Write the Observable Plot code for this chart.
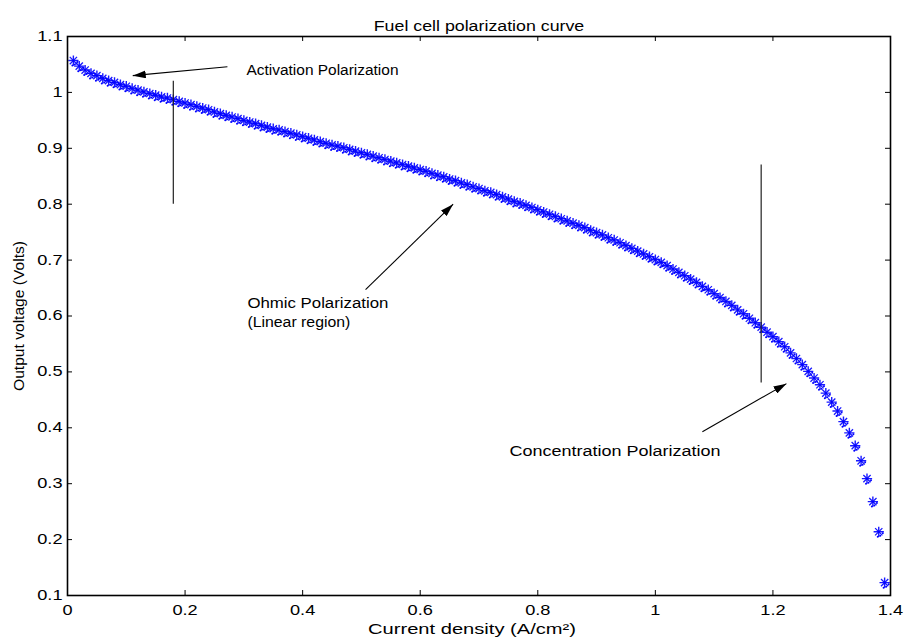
<!DOCTYPE html>
<html>
<head>
<meta charset="utf-8">
<script src="https://cdn.jsdelivr.net/npm/d3@7"></script>
<script src="https://cdn.jsdelivr.net/npm/@observablehq/plot@0.6"></script>
<style>
  html, body { margin: 0; padding: 0; background: #fff; }
  svg { display: block; }
</style>
</head>
<body>
<div id="chart"></div>
<script>
// ---- data ----
const currentDensity = [
  0.01,0.02,0.03,0.04,0.05,0.06,0.07,0.08,0.09,0.10,
  0.11,0.12,0.13,0.14,0.15,0.16,0.17,0.18,0.19,0.20,
  0.21,0.22,0.23,0.24,0.25,0.26,0.27,0.28,0.29,0.30,
  0.31,0.32,0.33,0.34,0.35,0.36,0.37,0.38,0.39,0.40,
  0.41,0.42,0.43,0.44,0.45,0.46,0.47,0.48,0.49,0.50,
  0.51,0.52,0.53,0.54,0.55,0.56,0.57,0.58,0.59,0.60,
  0.61,0.62,0.63,0.64,0.65,0.66,0.67,0.68,0.69,0.70,
  0.71,0.72,0.73,0.74,0.75,0.76,0.77,0.78,0.79,0.80,
  0.81,0.82,0.83,0.84,0.85,0.86,0.87,0.88,0.89,0.90,
  0.91,0.92,0.93,0.94,0.95,0.96,0.97,0.98,0.99,1.00,
  1.01,1.02,1.03,1.04,1.05,1.06,1.07,1.08,1.09,1.10,
  1.11,1.12,1.13,1.14,1.15,1.16,1.17,1.18,1.19,1.20,
  1.21,1.22,1.23,1.24,1.25,1.26,1.27,1.28,1.29,1.30,
  1.31,1.32,1.33,1.34,1.35,1.36,1.37,1.38,1.39
];
const outputVoltage = [
  1.057,1.047,1.040,1.034,1.030,1.025,1.021,1.018,1.014,1.011,
  1.007,1.004,1.001,0.998,0.995,0.992,0.990,0.987,0.984,0.981,
  0.978,0.975,0.972,0.969,0.965,0.962,0.959,0.956,0.953,0.950,
  0.947,0.944,0.941,0.938,0.935,0.933,0.930,0.927,0.924,0.921,
  0.918,0.915,0.912,0.909,0.906,0.904,0.901,0.898,0.895,0.892,
  0.889,0.886,0.883,0.880,0.877,0.874,0.871,0.868,0.865,0.862,
  0.859,0.855,0.852,0.849,0.845,0.842,0.838,0.835,0.831,0.828,
  0.824,0.821,0.817,0.813,0.809,0.805,0.802,0.798,0.794,0.790,
  0.786,0.782,0.778,0.774,0.770,0.766,0.762,0.758,0.753,0.749,
  0.745,0.740,0.736,0.731,0.726,0.721,0.716,0.711,0.706,0.701,
  0.696,0.690,0.684,0.678,0.672,0.666,0.660,0.653,0.647,0.640,
  0.633,0.626,0.619,0.611,0.604,0.596,0.588,0.580,0.571,0.563,
  0.554,0.545,0.534,0.524,0.513,0.501,0.489,0.477,0.462,0.446,
  0.430,0.411,0.391,0.368,0.341,0.309,0.268,0.214,0.123
];

const xTicks = [0, 0.2, 0.4, 0.6, 0.8, 1, 1.2, 1.4];
const xTickLabels = ["0", "0.2", "0.4", "0.6", "0.8", "1", "1.2", "1.4"];
const yTicks = [0.1, 0.2, 0.3, 0.4, 0.5, 0.6, 0.7, 0.8, 0.9, 1, 1.1];
const yTickLabels = ["0.1", "0.2", "0.3", "0.4", "0.5", "0.6", "0.7", "0.8", "0.9", "1", "1.1"];

const titleText = "Fuel cell polarization curve";
const xLabelText = "Current density (A/cm\u00B2)";
const yLabelText = "Output voltage (Volts)";

// annotations (data coordinates)
const noteTexts = ["Activation Polarization", "Ohmic Polarization", "(Linear region)", "Concentration Polarization"];
const noteX = [0.3045, 0.306, 0.306, 0.752];
const noteY = [1.039, 0.622, 0.588, 0.357];
const noteWidths = [152, 141, 103, 211];

const arrowX1 = [0.272, 0.507, 1.080];
const arrowY1 = [1.046, 0.647, 0.393];
const arrowX2 = [0.111, 0.656, 1.223];
const arrowY2 = [1.030, 0.800, 0.479];

const dividerX = [0.18, 1.18];
const dividerY1 = [0.80, 0.48];
const dividerY2 = [1.02, 0.87];

// ---- build tables ----
const points = currentDensity.map((x, i) => ({x, y: outputVoltage[i]}));
const notes = noteTexts.map((t, i) => ({t, x: noteX[i], y: noteY[i]}));
const arrows = arrowX1.map((x1, i) => ({x1, y1: arrowY1[i], x2: arrowX2[i], y2: arrowY2[i]}));
const dividers = dividerX.map((x, i) => ({x, y1: dividerY1[i], y2: dividerY2[i]}));

const W = 905, H = 644;
const mL = 67, mR = 15, mT = 36, mB = 49;
const fw = W - mL - mR, fh = H - mT - mB;

function filledArrow(color, context) {
  const ns = "http://www.w3.org/2000/svg";
  const doc = (context && context.document) || document;
  const m = doc.createElementNS(ns, "marker");
  m.setAttribute("viewBox", "0 -4 13 8");
  m.setAttribute("refX", "13");
  m.setAttribute("refY", "0");
  m.setAttribute("markerWidth", "13");
  m.setAttribute("markerHeight", "8");
  m.setAttribute("markerUnits", "userSpaceOnUse");
  m.setAttribute("orient", "auto");
  const p = doc.createElementNS(ns, "path");
  p.setAttribute("d", "M0,-4L13,0L0,4Z");
  p.setAttribute("fill", color);
  p.setAttribute("stroke", "none");
  m.appendChild(p);
  return m;
}

function build(marker) {
  return Plot.plot({
    width: W, height: H,
    marginLeft: mL, marginRight: mR, marginTop: mT, marginBottom: mB,
    x: {domain: [0, 1.4]},
    y: {domain: [0.1, 1.1]},
    style: {fontFamily: "'Liberation Sans', Arial, Helvetica, sans-serif", fontSize: "14px", color: "black", background: "white", overflow: "visible"},
    marks: [
      // data: dotted fringe + asterisks
      Plot.dot(points, {x: "x", y: "y", r: 1, fill: "#0000ff", stroke: null, dx: 1.5, dy: 4}),
      Plot.dot(points, {x: "x", y: "y", r: 1, fill: "#0000ff", stroke: null, dx: 4, dy: 1.5}),
      Plot.dot(points, {x: "x", y: "y", r: 1, fill: "#0000ff", stroke: null, dx: -1, dy: 5}),
      Plot.dot(points, {x: "x", y: "y", symbol: "plus", r: 3.4, stroke: "#0000ff", strokeOpacity: 0.9, strokeWidth: 1.4}),
      Plot.dot(points, {x: "x", y: "y", symbol: "times", r: 3.4, stroke: "#0000ff", strokeOpacity: 0.9, strokeWidth: 1.3}),
      // divider lines
      Plot.ruleX(dividers, {x: "x", y1: "y1", y2: "y2", stroke: "#222", strokeWidth: 1.2}),
      // arrows
      Plot.link(arrows, {x1: "x1", y1: "y1", x2: "x2", y2: "y2", stroke: "black", strokeWidth: 1.1, markerEnd: marker}),
      // annotation text
      Plot.text(notes, {x: "x", y: "y", text: "t", textAnchor: "start", fill: "black", fontSize: 14, className: "note"}),
      // inward ticks on all four sides
      Plot.ruleX(xTicks, {x: d => d, insetTop: fh - 5, stroke: "black"}),
      Plot.ruleX(xTicks, {x: d => d, insetBottom: fh - 5, stroke: "black"}),
      Plot.ruleY(yTicks, {y: d => d, insetRight: fw - 5, stroke: "black"}),
      Plot.ruleY(yTicks, {y: d => d, insetLeft: fw - 5, stroke: "black"}),
      // tick labels
      Plot.axisX({ticks: xTicks, tickSize: 0, tickPadding: 10, label: null,
        tickFormat: d => xTickLabels[xTicks.findIndex(t => Math.abs(t - d) < 1e-9)]}),
      Plot.axisY({ticks: yTicks, tickSize: 0, tickPadding: 5, label: null,
        tickFormat: d => yTickLabels[yTicks.findIndex(t => Math.abs(t - d) < 1e-9)]}),
      Plot.frame({stroke: "black", strokeWidth: 1.6}),
      // title and axis labels
      Plot.text([titleText], {frameAnchor: "top", textAnchor: "middle", text: d => d, dy: -15.5, fontSize: 14, className: "ttl"}),
      Plot.text([xLabelText], {frameAnchor: "bottom", textAnchor: "middle", text: d => d, dx: -7, dy: 38, fontSize: 14, className: "xlab"}),
      Plot.text([yLabelText], {frameAnchor: "left", textAnchor: "middle", text: d => d, dx: -48, rotate: -90, fontSize: 15, className: "ylab"})
    ]
  });
}

let chart;
try { chart = build(filledArrow); } catch (e) { chart = build("arrow"); }
document.getElementById("chart").append(chart);

// MATLAB-like wide lettering
function stretch(selector, f) {
  chart.querySelectorAll(selector).forEach(t => {
    const w = t.getComputedTextLength();
    if (w > 0) {
      t.setAttribute("textLength", (w * f).toFixed(1));
      t.setAttribute("lengthAdjust", "spacingAndGlyphs");
    }
  });
}
function fitWidth(selector, widths) {
  chart.querySelectorAll(selector).forEach((t, i) => {
    if (widths[i]) {
      t.setAttribute("textLength", widths[i]);
      t.setAttribute("lengthAdjust", "spacingAndGlyphs");
    }
  });
}
stretch('g[aria-label="x-axis tick label"] text', 1.3);
stretch('g[aria-label="y-axis tick label"] text', 1.3);
stretch('.ttl text', 1.27);
fitWidth('.xlab text', [208]);
fitWidth('.note text', noteWidths);
fitWidth('.ylab text', [150]);
</script>
</body>
</html>
